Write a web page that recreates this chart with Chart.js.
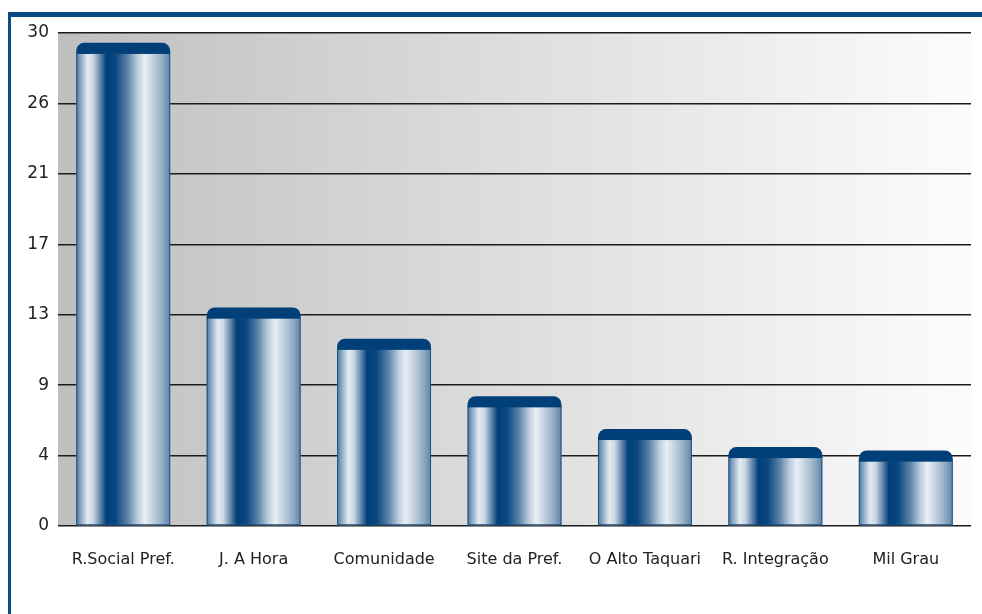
<!DOCTYPE html>
<html>
<head>
<meta charset="utf-8">
<script src="https://cdn.jsdelivr.net/npm/chart.js@4"></script>
<style>
  html, body { margin: 0; padding: 0; background: #fff; overflow: hidden; }
  #frame { position: absolute; left: 8px; top: 12px; width: 1000px; height: 700px;
           border-top: 5px solid #0b4a84; border-left: 3px solid #0b4a84; }
  #wrap { position: absolute; left: 0; top: 0; width: 982px; height: 614px; }
</style>
</head>
<body>
<div id="frame"></div>
<div id="wrap"><canvas id="chart"></canvas></div>
<script>
// dados do gráfico
const categorias = ['R.Social Pref.', 'J. A Hora', 'Comunidade', 'Site da Pref.', 'O Alto Taquari', 'R. Integração', 'Mil Grau'];
const valores = [29.4, 13.3, 11.4, 7.9, 5.9, 4.8, 4.6];
const yTicks = ['0', '4', '9', '13', '17', '21', '26', '30'];
const yMax = 30;

// fundo cinza -> branco na área do gráfico
const fundo = {
    id: 'fundo',
    beforeDraw(chart) {
        const { ctx, chartArea: a } = chart;
        const g = ctx.createLinearGradient(a.left, 0, a.right, 0);
        g.addColorStop(0, '#bfbfbf');
        g.addColorStop(1, '#fcfcfc');
        ctx.save();
        ctx.fillStyle = g;
        ctx.fillRect(a.left, a.top, a.right - a.left, a.bottom - a.top);
        ctx.restore();
    }
};

// cilindros: gradiente horizontal + tampa escura
const cilindro = {
    id: 'cilindro',
    afterDatasetsDraw(chart) {
        const ctx = chart.ctx;
        const meta = chart.getDatasetMeta(0);
        const h = 11, rad = 8;
        meta.data.forEach(bar => {
            const p = bar.getProps(['x', 'y', 'width', 'base'], true);
            const l = p.x - p.width / 2, r = p.x + p.width / 2;
            const g = ctx.createLinearGradient(l, 0, r, 0);
            g.addColorStop(0, '#4d759d');
            g.addColorStop(0.05, '#8eaac4');
            g.addColorStop(0.12, '#e3eaf1');
            g.addColorStop(0.18, '#c9d6e3');
            g.addColorStop(0.26, '#5c81a7');
            g.addColorStop(0.32, '#003f7a');
            g.addColorStop(0.42, '#0a4780');
            g.addColorStop(0.55, '#5f85aa');
            g.addColorStop(0.65, '#b9cbdb');
            g.addColorStop(0.73, '#e9eff4');
            g.addColorStop(0.82, '#c2d0de');
            g.addColorStop(0.91, '#95afc7');
            g.addColorStop(1, '#5f84a8');
            const top = p.y + h - 1;
            ctx.save();
            ctx.fillStyle = g;
            ctx.fillRect(l, top, p.width, p.base - top);
            ctx.strokeStyle = '#1f5385';
            ctx.lineWidth = 1;
            ctx.strokeRect(l + 0.5, top + 0.5, p.width - 1, p.base - top - 1);
            // tampa
            ctx.beginPath();
            ctx.moveTo(l, p.y + h);
            ctx.arcTo(l, p.y, l + rad, p.y, rad);
            ctx.arcTo(r, p.y, r, p.y + rad, rad);
            ctx.lineTo(r, p.y + h);
            ctx.closePath();
            ctx.fillStyle = '#013f78';
            ctx.fill();
            ctx.restore();
        });
    }
};

new Chart(document.getElementById('chart'), {
    type: 'bar',
    data: {
        labels: categorias,
        datasets: [{
            data: valores,
            backgroundColor: 'rgba(0,0,0,0)',
            barPercentage: 0.72,
            categoryPercentage: 1
        }]
    },
    options: {
        responsive: true,
        maintainAspectRatio: false,
        animation: false,
        layout: { padding: { top: 33, right: 11, left: 0, bottom: 0 } },
        plugins: { legend: { display: false }, tooltip: { enabled: false } },
        scales: {
            x: {
                grid: { display: false },
                border: { display: false },
                ticks: {
                    padding: 16,
                    color: '#222',
                    font: { family: 'DejaVu Sans', size: 16 },
                    maxRotation: 0
                },
                afterFit(scale) { scale.height = 88; }
            },
            y: {
                min: 0,
                max: yMax,
                border: { display: false },
                grid: { color: '#1c1c1c', lineWidth: 1.5, drawTicks: false },
                afterBuildTicks(axis) {
                    axis.ticks = yTicks.map((t, i) => ({ value: i * yMax / (yTicks.length - 1) }));
                },
                ticks: {
                    padding: 9,
                    color: '#222',
                    font: { family: 'DejaVu Sans', size: 17 },
                    callback: (v, i) => yTicks[i]
                },
                afterFit(scale) { scale.width = 58; }
            }
        }
    },
    plugins: [fundo, cilindro]
});
</script>
</body>
</html>
